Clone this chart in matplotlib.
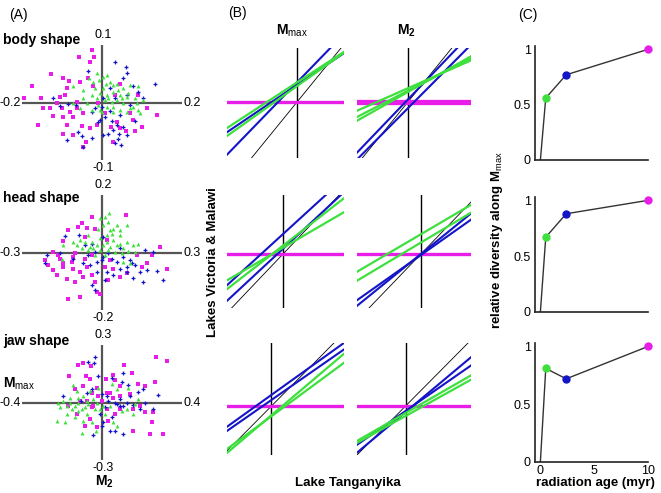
import numpy as np
import matplotlib
matplotlib.use('Agg')
import matplotlib.pyplot as plt

plt.rcParams['font.family'] = ['Liberation Sans', 'DejaVu Sans']
plt.rcParams['mathtext.fontset'] = 'custom'
plt.rcParams['mathtext.rm'] = 'Liberation Sans'
plt.rcParams['mathtext.bf'] = 'Liberation Sans:bold'

MAG, BLUE, GREEN = '#e81ee8', '#1414c8', '#3ee03e'

# ---------------- (A) shape-space scatter data ----------------
body_magenta = [(-0.026, 0.091), (-0.057, 0.080), (-0.020, 0.080), (-0.030, 0.071), (-0.128, 0.049),
                (-0.098, 0.042), (-0.082, 0.037), (-0.034, 0.042), (-0.022, 0.028), (-0.176, 0.028),
                (-0.195, 0.008), (-0.105, 0.010), (-0.093, 0.013), (-0.147, -0.009), (-0.130, -0.009),
                (-0.101, -0.010), (-0.080, -0.016), (-0.062, -0.009), (-0.047, -0.019), (-0.122, -0.023),
                (-0.098, -0.025), (-0.072, -0.025), (-0.159, -0.039), (-0.088, -0.039), (-0.051, -0.040),
                (-0.030, -0.045), (-0.097, -0.055), (-0.073, -0.057), (-0.040, -0.069), (-0.047, -0.077),
                (0.022, -0.042), (0.045, -0.045), (0.060, -0.050), (0.082, -0.050), (0.099, -0.042),
                (0.113, -0.010), (0.138, -0.022), (0.077, -0.030), (0.037, -0.034), (0.027, -0.068),
                (0.045, 0.032), (0.033, 0.013), (0.008, -0.019), (-0.009, -0.001), (0.070, -0.019),
                (0.091, 0.013), (-0.153, 0.007), (-0.113, -0.001), (-0.063, 0.001), (-0.012, -0.039),
                (-0.055, 0.036), (-0.088, 0.026)]
body_blue = [(0.033, 0.071), (0.060, 0.061), (0.063, 0.051), (-0.034, 0.054), (0.053, 0.042),
             (0.133, 0.032), (0.078, 0.028), (0.020, 0.025), (0.091, 0.019), (-0.123, 0.008),
             (-0.105, -0.006), (-0.084, -0.003), (0.102, 0.007), (-0.017, -0.010), (0.020, -0.015),
             (0.045, -0.022), (-0.005, -0.030), (0.024, -0.032), (0.037, -0.039), (-0.009, -0.034),
             (0.053, -0.042), (0.028, -0.048), (0.043, -0.054), (0.016, -0.055), (0.003, -0.057),
             (-0.059, -0.052), (-0.051, -0.058), (-0.088, -0.066), (-0.026, -0.061), (0.041, -0.064),
             (0.033, -0.071), (0.047, -0.074), (-0.047, -0.077), (-0.065, -0.004), (0.003, 0.007),
             (0.070, -0.004), (-0.001, -0.007), (0.008, -0.025), (-0.026, -0.016), (0.062, 0.013),
             (0.033, 0.007), (0.083, -0.033), (0.062, -0.057)]
body_green = [(-0.012, 0.052), (0.002, 0.045), (0.013, 0.047), (-0.032, 0.042), (-0.022, 0.036),
              (-0.072, 0.028), (-0.047, 0.022), (0.020, 0.036), (0.037, 0.033), (0.053, 0.025),
              (0.070, 0.031), (0.003, 0.025), (-0.005, 0.016), (0.013, 0.013), (0.028, 0.019),
              (0.045, 0.013), (0.062, 0.010), (0.083, 0.007), (-0.013, 0.007), (0.008, 0.004),
              (0.024, 0.001), (0.037, 0.004), (0.053, -0.001), (-0.009, -0.004), (0.012, -0.007),
              (-0.038, -0.001), (-0.055, -0.010), (0.078, -0.007), (0.091, -0.013), (0.095, -0.019),
              (0.045, -0.013), (0.062, -0.016), (-0.001, -0.016), (-0.026, -0.013), (0.087, -0.001),
              (0.103, 0.004), (0.028, 0.030), (-0.018, 0.025), (0.010, 0.032), (0.041, 0.022),
              (0.066, 0.016), (0.016, 0.007), (0.049, 0.007), (-0.005, -0.013), (0.028, -0.016),
              (0.070, -0.010), (-0.026, 0.013), (-0.047, 0.007), (-0.072, -0.001), (0.091, 0.028),
              (-0.007, 0.039), (0.028, -0.007)]

head_magenta = [(0.090, 0.132), (-0.039, 0.124), (-0.076, 0.101), (-0.089, 0.089), (-0.058, 0.086),
                (-0.126, 0.078), (-0.026, 0.083), (-0.145, 0.039), (-0.064, 0.054), (-0.183, 0.002),
                (-0.164, -0.007), (-0.214, -0.027), (-0.201, -0.044), (-0.183, -0.061), (-0.145, -0.050),
                (-0.114, -0.032), (-0.108, -0.058), (-0.133, -0.093), (-0.168, -0.079), (-0.101, -0.102),
                (-0.058, -0.050), (-0.039, -0.079), (-0.026, -0.102), (-0.070, -0.085), (-0.126, -0.160),
                (-0.083, -0.154), (-0.020, -0.137), (-0.008, -0.145), (0.024, -0.096), (0.043, -0.056),
                (0.068, -0.085), (0.093, -0.073), (0.149, -0.050), (0.186, -0.009), (0.218, 0.020),
                (0.243, -0.056), (0.130, -0.009), (0.168, -0.038), (0.030, -0.027), (0.020, 0.043),
                (-0.039, -0.009), (-0.101, -0.003), (-0.158, -0.021), (-0.108, -0.015), (-0.064, -0.021),
                (-0.083, -0.067), (0.011, -0.050), (-0.145, -0.038)]
head_blue = [(-0.139, 0.058), (-0.085, 0.060), (-0.064, 0.026), (-0.039, 0.031), (0.005, 0.054),
             (-0.208, -0.009), (-0.214, -0.038), (-0.158, -0.003), (-0.108, -0.021), (-0.070, -0.038),
             (-0.045, -0.044), (-0.020, -0.032), (0.005, -0.015), (0.036, -0.021), (0.055, -0.032),
             (0.080, -0.015), (0.105, -0.027), (0.124, -0.044), (0.093, -0.050), (0.143, -0.067),
             (0.168, -0.061), (0.205, -0.064), (0.230, -0.096), (0.155, -0.102), (0.118, -0.090),
             (0.043, -0.079), (0.018, -0.067), (0.011, -0.096), (-0.026, -0.131), (-0.039, -0.114),
             (-0.001, -0.027), (0.193, 0.002), (0.161, 0.008), (0.068, 0.014), (-0.026, 0.002),
             (0.024, -0.003), (-0.051, -0.009), (0.068, -0.056), (0.093, -0.067), (0.111, -0.038),
             (-0.020, -0.067)]
head_green = [(-0.008, 0.121), (0.028, 0.136), (0.011, 0.124), (0.055, 0.095), (0.093, 0.097),
              (0.030, 0.078), (-0.014, 0.083), (-0.051, 0.060), (-0.083, 0.043), (-0.108, 0.037),
              (-0.145, 0.026), (-0.039, 0.037), (-0.008, 0.049), (0.018, 0.037), (0.043, 0.043),
              (0.068, 0.031), (0.093, 0.037), (0.118, 0.026), (0.136, 0.028), (-0.033, 0.014),
              (-0.008, 0.008), (-0.051, 0.008), (-0.076, 0.016), (0.024, 0.008), (0.049, 0.002),
              (0.074, -0.003), (0.099, 0.005), (0.124, 0.002), (-0.151, -0.021), (0.105, -0.038),
              (0.080, -0.032), (-0.026, -0.007), (0.011, -0.009), (0.036, 0.066), (0.068, 0.060),
              (-0.020, 0.026), (0.005, 0.026), (0.030, 0.020), (0.055, 0.026), (0.080, 0.014),
              (-0.045, 0.020), (-0.064, 0.037), (0.018, 0.060), (0.043, 0.083), (0.068, 0.078),
              (0.005, 0.095), (0.024, 0.107), (-0.095, 0.026)]

jaw_magenta = [(0.270, 0.235), (0.323, 0.217), (-0.118, 0.195), (-0.097, 0.205), (-0.057, 0.188),
               (-0.163, 0.136), (-0.080, 0.139), (-0.060, 0.125), (0.110, 0.195), (0.148, 0.153),
               (0.053, 0.143), (0.020, 0.122), (0.065, 0.118), (0.265, 0.108), (0.182, 0.096),
               (0.215, 0.087), (0.090, 0.087), (-0.093, 0.087), (-0.027, 0.078), (-0.135, 0.070),
               (-0.052, 0.052), (0.023, 0.052), (0.140, 0.043), (-0.018, 0.035), (0.057, 0.026),
               (-0.110, 0.009), (-0.168, -0.017), (-0.052, -0.026), (0.090, -0.035), (0.157, -0.035),
               (0.215, -0.052), (0.257, -0.052), (0.248, -0.104), (-0.127, -0.061), (-0.060, -0.087),
               (0.032, -0.096), (-0.027, -0.130), (-0.085, -0.122), (0.157, -0.148), (0.240, -0.165),
               (0.307, -0.165), (0.065, -0.061), (0.023, -0.035), (-0.077, 0.009), (-0.043, -0.017),
               (-0.002, 0.009), (0.040, 0.052), (0.090, 0.035), (0.190, -0.017)]
jaw_blue = [(-0.035, 0.235), (-0.040, 0.205), (-0.068, 0.212), (-0.018, 0.139), (0.048, 0.130),
            (0.107, 0.153), (0.098, 0.108), (0.132, 0.090), (0.182, 0.056), (0.207, 0.070),
            (0.282, 0.038), (-0.193, 0.035), (-0.077, 0.052), (-0.002, 0.043), (0.032, 0.009),
            (0.073, -0.009), (0.090, 0.017), (0.107, -0.017), (0.123, 0.000), (0.157, -0.014),
            (0.215, 0.000), (0.253, -0.035), (0.190, -0.035), (0.015, -0.026), (-0.010, -0.061),
            (0.048, -0.078), (-0.002, -0.122), (0.040, -0.148), (0.065, -0.148), (0.107, -0.165),
            (-0.043, -0.170), (0.007, -0.104), (-0.105, 0.009), (0.065, 0.000), (0.090, -0.017),
            (0.023, 0.035), (-0.052, 0.070), (0.140, 0.035)]
jaw_green = [(-0.143, 0.090), (-0.127, 0.061), (-0.093, 0.035), (-0.060, 0.061), (-0.018, 0.078),
             (0.048, 0.096), (0.073, 0.073), (0.132, 0.078), (-0.193, 0.009), (-0.218, 0.000),
             (-0.160, 0.000), (-0.118, 0.000), (-0.077, 0.009), (-0.043, 0.017), (-0.152, -0.035),
             (-0.118, -0.043), (-0.177, -0.017), (-0.085, -0.026), (-0.035, -0.035), (0.007, -0.017),
             (0.040, -0.017), (0.098, -0.043), (0.123, -0.035), (0.165, -0.009), (0.182, 0.017),
             (-0.227, -0.096), (-0.185, -0.104), (-0.135, -0.078), (-0.093, -0.096), (-0.052, -0.104),
             (-0.030, -0.148), (-0.102, -0.157), (0.057, -0.104), (0.073, -0.122), (0.157, -0.061),
             (0.015, -0.061), (-0.160, 0.026), (-0.135, -0.017), (-0.102, -0.035), (-0.068, -0.009),
             (-0.027, 0.000), (-0.010, -0.035), (-0.210, -0.026), (-0.177, -0.061), (-0.077, -0.061),
             (-0.118, 0.026)]

# ---------------- (B) regression lines (slope, intercept) ----------------
body_mmax_blue = [(0.55, 0.14), (0.84, 0.16)]
body_mmax_green = [(0.53, 0.16), (0.58, 0.13)]
body_m2_blue = [(0.85, 0.02), (0.82, -0.05)]
body_m2_green = [(0.36, 0.11), (0.42, 0.09), (0.46, 0.08)]
head_mmax_blue = [(0.87, 0.19), (0.885, 0.05)]
head_mmax_green = [(0.74, 0.08), (0.555, 0.06)]
head_m2_blue = [(0.78, 0.0), (0.68, -0.01)]
head_m2_green = [(0.565, 0.19), (0.574, 0.11)]
jaw_mmax_blue = [(0.71, 0.11), (0.69, 0.06)]
jaw_mmax_green = [(0.84, -0.09), (0.73, -0.10)]
jaw_m2_blue = [(0.83, -0.06), (0.69, -0.05)]
jaw_m2_green = [(0.57, -0.07), (0.55, -0.10)]

# ---------------- (C) relative diversity ----------------
ages = [0.5, 2.4, 10]
body_div = [0.56, 0.77, 1.0]
head_div = [0.67, 0.88, 1.0]
jaw_div = [0.81, 0.72, 1.0]

W, H = 661, 493
fig = plt.figure(figsize=(W / 100, H / 100), dpi=100)


def box(l, t, r, b):
    return [l / W, 1 - b / H, (r - l) / W, (b - t) / H]


def ftext(x, y, s, **kw):
    fig.text(x / W, 1 - y / H, s, **kw)


# ---- panel A ----
a_boxes = [(22, 45, 182, 160), (22, 195, 182, 310), (22, 345, 182, 460)]
a_lims = [(0.2, 0.1), (0.3, 0.2), (0.4, 0.3)]
a_data = [(body_magenta, body_blue, body_green),
          (head_magenta, head_blue, head_green),
          (jaw_magenta, jaw_blue, jaw_green)]
a_names = ['body shape', 'head shape', 'jaw shape']
a_name_y = [40, 198, 341]
for (l, t, r, b), (xl, yl), (mg, bl, gr), name, ny in zip(a_boxes, a_lims, a_data, a_names, a_name_y):
    ax = fig.add_axes(box(l, t, r, b))
    ax.set_xlim(-xl, xl)
    ax.set_ylim(-yl, yl)
    ax.axis('off')
    ax.axhline(0, color='#555555', lw=1.6, zorder=1)
    ax.axvline(0, color='#555555', lw=1.6, zorder=1)
    ax.plot(*np.array(mg).T, 's', color=MAG, ms=2.3, mew=0, zorder=2)
    ax.plot(*np.array(bl).T, 'P', color=BLUE, ms=2.8, mew=0, zorder=3)
    ax.plot(*np.array(gr).T, '^', color=GREEN, ms=2.8, mew=0, zorder=4)
    cx = (l + r) / 2 + 1
    cy = (t + b) / 2
    ftext(cx, t - 10, f'{yl:g}', ha='center', va='center', fontsize=9)
    ftext(cx, b + 8, f'{-yl:g}', ha='center', va='center', fontsize=9)
    ftext(l - 1, cy, f'{-xl:g}', ha='right', va='center', fontsize=9)
    ftext(r + 1, cy, f'{xl:g}', ha='left', va='center', fontsize=9)
    ftext(3, ny, name, ha='left', va='center', fontsize=10, fontweight='bold')

ftext(3, 384, r'$\mathbf{M}_{\mathrm{max}}$', ha='left', va='center', fontsize=10)
ftext(104, 482, r'$\mathbf{M}_{\mathbf{2}}$', ha='center', va='center', fontsize=10)
ftext(18, 15, '(A)', ha='center', va='center', fontsize=10)

# ---- panel B ----
b_cols = [(227, 344), (357, 471)]
b_rows = [(48, 158), (195, 308), (343, 455)]
b_lims = [[((-0.70, 0.47), (-0.455, 0.44)), ((-0.50, 0.62), (-0.448, 0.432))],
          [((-0.56, 0.61), (-0.514, 0.562)), ((-0.64, 0.50), (-0.52, 0.567))],
          [((-0.44, 0.72), (-0.48, 0.62)), ((-0.49, 0.66), (-0.49, 0.63))]]
b_lines = [[(body_mmax_blue, body_mmax_green), (body_m2_blue, body_m2_green)],
           [(head_mmax_blue, head_mmax_green), (head_m2_blue, head_m2_green)],
           [(jaw_mmax_blue, jaw_mmax_green), (jaw_m2_blue, jaw_m2_green)]]
for i, (t, b) in enumerate(b_rows):
    for j, (l, r) in enumerate(b_cols):
        ax = fig.add_axes(box(l, t, r, b))
        xlim, ylim = b_lims[i][j]
        ax.set_xlim(xlim)
        ax.set_ylim(ylim)
        ax.axis('off')
        xs = np.array(xlim)
        ax.axvline(0, color='black', lw=1.0, zorder=1)
        ax.plot(xs, xs, color='black', lw=0.6, zorder=2)
        ax.axhline(0, color=MAG, lw=3.8 if (i, j) == (0, 1) else 2.4, zorder=3)
        blues, greens = b_lines[i][j]
        for m, c in blues:
            ax.plot(xs, m * xs + c, color=BLUE, lw=1.5, zorder=4)
        for m, c in greens:
            ax.plot(xs, m * xs + c, color=GREEN, lw=1.6, zorder=5)

ftext(237, 13, '(B)', ha='center', va='center', fontsize=10)
ftext(292, 31, r'$\mathbf{M}_{\mathrm{max}}$', ha='center', va='center', fontsize=10)
ftext(406, 31, r'$\mathbf{M}_{\mathbf{2}}$', ha='center', va='center', fontsize=10)
ftext(348, 483, 'Lake Tanganyika', ha='center', va='center', fontsize=9.5, fontweight='bold')
ftext(213, 262, 'Lakes Victoria & Malawi', ha='center', va='center', rotation=90,
      fontsize=9.5, fontweight='bold')

# ---- panel C ----
c_boxes = [(535, 46, 648, 160), (535, 197, 648, 312), (535, 343, 648, 462)]
for k, ((l, t, r, b), vals) in enumerate(zip(c_boxes, [body_div, head_div, jaw_div])):
    ax = fig.add_axes(box(l, t, r, b))
    ax.plot([0] + ages, [0] + vals, color='#333333', lw=1.0, zorder=2)
    for x, y, c in zip(ages, vals, [GREEN, BLUE, MAG]):
        ax.plot(x, y, 'o', color=c, ms=6, mew=0, zorder=3, clip_on=False)
    ax.set_xlim(-0.5, 10)
    ax.set_ylim(0, 1.03)
    ax.set_yticks([0, 0.5, 1])
    ax.set_yticklabels(['0', '0.5', '1'])
    for s in ['top', 'right']:
        ax.spines[s].set_visible(False)
    for s in ['left', 'bottom']:
        ax.spines[s].set_color('#222222')
        ax.spines[s].set_linewidth(1.2)
    ax.tick_params(length=0, labelsize=9, pad=3)
    if k < 2:
        ax.set_xticks([])
    else:
        ax.set_xticks([0, 5, 10])
        ax.tick_params(axis='x', pad=2)

ftext(528, 15, '(C)', ha='center', va='center', fontsize=10)
ftext(497, 240, r'relative diversity along $\mathbf{M}_{\mathrm{max}}$', ha='center', va='center',
      rotation=90, fontsize=9.5, fontweight='bold')
ftext(595, 483, 'radiation age (myr)', ha='center', va='center', fontsize=9.5, fontweight='bold')

fig.savefig('out.png', dpi=100)
